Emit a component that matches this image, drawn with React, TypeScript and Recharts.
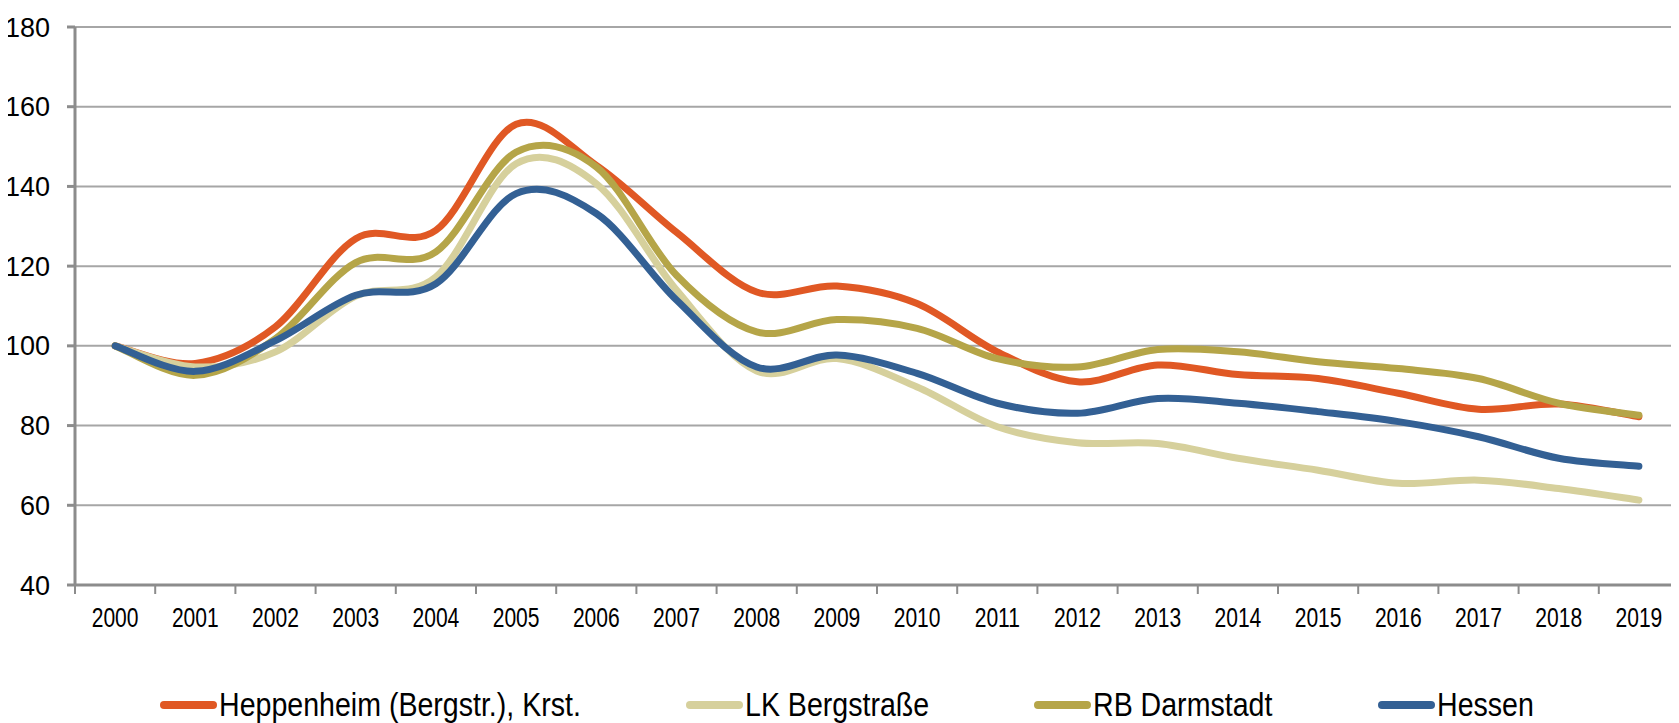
import { LineChart, Line, XAxis, YAxis, CartesianGrid } from 'recharts';

const years = ['2000', '2001', '2002', '2003', '2004', '2005', '2006', '2007', '2008', '2009', '2010', '2011', '2012', '2013', '2014', '2015', '2016', '2017', '2018', '2019'];
const heppenheim = [100, 95.6, 104.8, 126.9, 129, 155.6, 145.3, 128.5, 113.5, 115, 110.6, 98.5, 91, 95.2, 92.8, 91.8, 88.1, 84.1, 85.4, 82.2];
const lkBergstrasse = [100, 94.7, 98.5, 112.5, 117.3, 145.7, 140.7, 114, 93.7, 96.8, 89.7, 79.7, 75.7, 75.5, 71.8, 68.8, 65.5, 66.3, 64.2, 61.3];
const rbDarmstadt = [100, 92.6, 101.8, 120.9, 123.6, 148.6, 144.9, 117.7, 103.5, 106.6, 104.4, 96.8, 94.7, 99.1, 98.5, 96, 94.3, 91.8, 85.6, 82.6];
const hessen = [100, 93.6, 101.3, 112.7, 115.6, 138.2, 133.2, 111.5, 94.7, 97.7, 93.1, 85.6, 83.1, 86.8, 85.6, 83.5, 81, 77.2, 71.8, 69.8];
const yTicks = [40, 60, 80, 100, 120, 140, 160, 180];

const series = [
    { key: 'heppenheim', name: 'Heppenheim (Bergstr.), Krst.', color: '#E05824' },
    { key: 'lk', name: 'LK Bergstraße', color: '#D6D09C' },
    { key: 'rb', name: 'RB Darmstadt', color: '#B5A548' },
    { key: 'hessen', name: 'Hessen', color: '#336094' },
];

const data = years.map((year, i) => ({
    year,
    heppenheim: heppenheim[i],
    lk: lkBergstrasse[i],
    rb: rbDarmstadt[i],
    hessen: hessen[i],
}));

// Excel-like smoothed line (Catmull-Rom through every point)
const excelCurve: any = (context: any) => {
    let pts: number[][] = [];
    return {
        areaStart() {},
        areaEnd() {},
        lineStart() { pts = []; },
        point(x: number, y: number) { pts.push([+x, +y]); },
        lineEnd() {
            if (!pts.length) return;
            context.moveTo(pts[0][0], pts[0][1]);
            for (let i = 0; i < pts.length - 1; i++) {
                const p0 = pts[Math.max(i - 1, 0)];
                const p1 = pts[i];
                const p2 = pts[i + 1];
                const p3 = pts[Math.min(i + 2, pts.length - 1)];
                context.bezierCurveTo(
                    p1[0] + (p2[0] - p0[0]) / 6, p1[1] + (p2[1] - p0[1]) / 6,
                    p2[0] - (p3[0] - p1[0]) / 6, p2[1] - (p3[1] - p1[1]) / 6,
                    p2[0], p2[1]
                );
            }
        },
    };
};

const sans = '"Liberation Sans", Arial, sans-serif';
const LEGEND_FONT = 34;
const LEGEND_SCALE = 0.84;
const TICK_MARGIN = 23;

function textWidth(text: string, font: string) {
    const ctx = document.createElement('canvas').getContext('2d');
    if (!ctx) return text.length * 17;
    ctx.font = font;
    return ctx.measureText(text).width;
}

// condensed year label + tick marks on the category boundaries (Excel style)
const YearTick = (props: any) => {
    const { x, y, payload, index, visibleTicksCount } = props;
    const half = payload && payload.offset ? payload.offset : 0;
    const axisY = y - TICK_MARGIN;
    const isLast = index === visibleTicksCount - 1;
    return (
        <g>
            {half > 0 && <line x1={x - half} x2={x - half} y1={axisY} y2={axisY + 9} stroke="#8C8C8C" strokeWidth={2} />}
            {half > 0 && isLast && <line x1={x + half} x2={x + half} y1={axisY} y2={axisY + 9} stroke="#8C8C8C" strokeWidth={2} />}
            <text transform={`translate(${x},${y}) scale(0.78,1)`} textAnchor="middle" dy="0.71em" fill="#000" fontSize={27} fontFamily={sans}>
                {payload.value}
            </text>
        </g>
    );
};

export default function App() {
    return (
        <div style={{ position: 'relative', width: 1679, height: 723, margin: '-8px 0 0 -8px', background: '#fff' }}>
            <LineChart width={1679} height={723} data={data} margin={{ top: 27, right: 0, left: 0, bottom: 88 }}>
                <CartesianGrid vertical={false} stroke="#A6A6A6" strokeWidth={2} />
                <XAxis
                    dataKey="year"
                    scale="band"
                    stroke="#8C8C8C"
                    strokeWidth={3}
                    tickLine={false}
                    tickSize={0}
                    tickMargin={TICK_MARGIN}
                    height={50}
                    interval={0}
                    tick={<YearTick />}
                />
                <YAxis
                    domain={[40, 180]}
                    ticks={yTicks}
                    width={75}
                    interval={0}
                    stroke="#8C8C8C"
                    strokeWidth={3}
                    tickSize={8}
                    tickMargin={17}
                    tick={{ fill: '#000', fontSize: 27, fontFamily: sans }}
                />
                {series.map(s => (
                    <Line
                        key={s.key}
                        type={excelCurve}
                        dataKey={s.key}
                        name={s.name}
                        stroke={s.color}
                        strokeWidth={7}
                        strokeLinecap="round"
                        dot={false}
                        activeDot={false}
                        isAnimationActive={false}
                    />
                ))}
            </LineChart>
            <div style={{ position: 'absolute', left: 0, top: 685, width: 1679, boxSizing: 'border-box', paddingLeft: 15, display: 'flex', justifyContent: 'center', gap: 105, fontFamily: sans, fontSize: LEGEND_FONT, color: '#000' }}>
                {series.map(s => {
                    const w = textWidth(s.name, `${LEGEND_FONT}px "Liberation Sans"`) * LEGEND_SCALE;
                    return (
                        <div key={s.key} style={{ display: 'flex', alignItems: 'center', whiteSpace: 'nowrap' }}>
                            <span style={{ display: 'inline-block', width: 57, height: 8, borderRadius: 4, background: s.color, marginRight: 2 }} />
                            <span style={{ display: 'inline-block', width: w }}>
                                <span style={{ display: 'inline-block', transform: `scaleX(${LEGEND_SCALE})`, transformOrigin: 'left center' }}>{s.name}</span>
                            </span>
                        </div>
                    );
                })}
            </div>
        </div>
    );
}
